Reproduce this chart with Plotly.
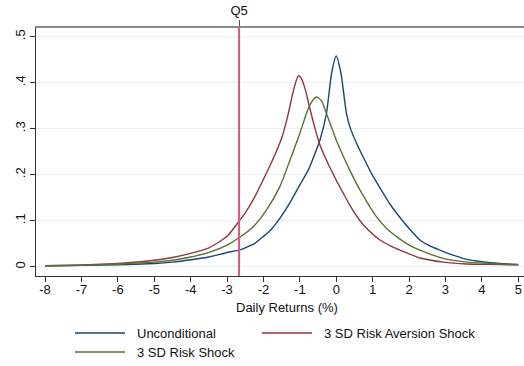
import plotly.graph_objects as go

# ---- data ----
x_uncond = [-8, -7, -6, -5, -4.5, -4, -3.5, -3, -2.67, -2.5, -2.25, -2, -1.8, -1.55, -1.28, -1.0,
            -0.77, -0.45, -0.27, -0.13, 0.0, 0.13, 0.28, 0.4, 0.56, 0.78, 1.0, 1.29, 1.5, 1.75,
            2.0, 2.3, 2.6, 2.94, 3.25, 3.58, 4.0, 4.5, 5.0]
y_uncond = [0.002, 0.003, 0.004, 0.007, 0.010, 0.015, 0.021, 0.031, 0.036, 0.041, 0.050, 0.066, 0.080, 0.105, 0.138, 0.178,
            0.21, 0.275, 0.333, 0.42, 0.458, 0.42, 0.333, 0.298, 0.268, 0.232, 0.198, 0.16, 0.133, 0.107,
            0.083, 0.058, 0.044, 0.033, 0.024, 0.016, 0.011, 0.007, 0.005]

x_aversion = [-8, -7, -6, -5, -4.5, -4, -3.5, -3, -2.67, -2.5, -2.25, -2.0, -1.75, -1.5, -1.35, -1.2,
              -1.1, -1.03, -0.95, -0.85, -0.75, -0.6, -0.45, -0.25, 0.0, 0.19, 0.4, 0.65, 0.9, 1.2,
              1.5, 1.75, 2.0, 2.3, 2.94, 3.58, 4.22, 5.0]
y_aversion = [0.002, 0.004, 0.007, 0.014, 0.020, 0.029, 0.041, 0.066, 0.099, 0.117, 0.150, 0.19, 0.232, 0.280, 0.322, 0.375,
              0.405, 0.415, 0.408, 0.385, 0.352, 0.305, 0.265, 0.228, 0.188, 0.16, 0.13, 0.10, 0.078, 0.058,
              0.045, 0.036, 0.028, 0.019, 0.010, 0.006, 0.005, 0.004]

x_risk = [-8, -7, -6, -5, -4.5, -4, -3.5, -3, -2.67, -2.28, -1.92, -1.55, -1.28, -1.0, -0.82, -0.7,
          -0.55, -0.4, -0.27, 0.0, 0.24, 0.37, 0.65, 1.1, 1.4, 1.75, 2.0, 2.3, 2.94, 3.58, 4.22, 5.0]
y_risk = [0.002, 0.003, 0.006, 0.010, 0.014, 0.021, 0.031, 0.047, 0.063, 0.087, 0.123, 0.174, 0.230, 0.290, 0.333, 0.355,
          0.369, 0.360, 0.333, 0.275, 0.232, 0.21, 0.167, 0.109, 0.082, 0.060, 0.047, 0.036, 0.018, 0.010, 0.007, 0.004]

q5_value = -2.67
series_names = ["Unconditional", "3 SD Risk Aversion Shock", "3 SD Risk Shock"]
x_ticks = list(range(-8, 6))
x_tick_labels = [str(v) for v in x_ticks]
y_ticks = [0, 0.1, 0.2, 0.3, 0.4, 0.5]
y_tick_labels = ["0", ".1", ".2", ".3", ".4", ".5"]
x_title = "Daily Returns (%)"

colors = ["#1a476f", "#90353b", "#55752f"]
FONT = "Liberation Sans, Arial, sans-serif"
FS = 13

fig = go.Figure()
for xs, ys, name, c in zip([x_uncond, x_aversion, x_risk], [y_uncond, y_aversion, y_risk],
                           series_names, colors):
    fig.add_trace(go.Scatter(x=xs, y=ys, mode="lines", name=name,
                             line=dict(color=c, width=1.4, shape="spline", smoothing=0.6),
                             showlegend=False))

Y0, Y1 = -0.0202, 0.5189
X0, X1 = -8.249, 5.157

# Q5 vertical line
fig.add_trace(go.Scatter(x=[q5_value, q5_value], y=[Y0, Y1], mode="lines",
                         line=dict(color="#d9577a", width=2), showlegend=False, hoverinfo="skip"))

# dummy trace to activate top axis
fig.add_trace(go.Scatter(x=[q5_value], y=[None], xaxis="x2", showlegend=False, hoverinfo="skip"))

fig.update_layout(
    width=524, height=366,
    margin=dict(l=36, r=0, t=28, b=90),
    paper_bgcolor="white", plot_bgcolor="white",
    font=dict(family=FONT, size=FS, color="#111111"),
    xaxis=dict(range=[X0, X1], tickvals=x_ticks, ticktext=x_tick_labels, ticks="outside", ticklen=5,
               tickcolor="#333333", showline=True, linecolor="#333333", linewidth=1.3,
               showgrid=False, zeroline=False, automargin=False, ticklabelstandoff=-4,
               tickfont=dict(size=FS)),
    xaxis2=dict(range=[X0, X1], overlaying="x", side="top", tickvals=[q5_value],
                ticktext=["Q5"], ticks="outside", ticklen=6, tickcolor="#555555",
                showline=True, linecolor="#8a8a8a", linewidth=1.5, showgrid=False,
                zeroline=False, automargin=False, tickfont=dict(size=FS)),
    yaxis=dict(range=[Y0, Y1], tickvals=y_ticks, ticktext=y_tick_labels,
               tickangle=-90, ticks="outside", ticklen=5, tickcolor="#333333",
               showline=True, linecolor="#333333", linewidth=1.3,
               showgrid=True, gridcolor="#e8f0f2", gridwidth=1, zeroline=False,
               automargin=False, tickfont=dict(size=FS)),
)

PL, PW, PB, PH = 36, 488, 90, 248

# x-axis title
fig.add_annotation(xref="paper", yref="paper", x=(287 - PL) / PW, y=((366 - 307) - PB) / PH,
                   text=x_title, showarrow=False, xanchor="center", yanchor="middle",
                   font=dict(size=FS, family=FONT))

# manual legend (styling only)
entries = [(0, 75, 333), (1, 262, 333), (2, 75, 352)]
for idx, x0, ypx in entries:
    yp = ((366 - ypx) - PB) / PH
    fig.add_shape(type="line", xref="paper", yref="paper",
                  x0=(x0 - PL) / PW, x1=(x0 + 50 - PL) / PW, y0=yp, y1=yp,
                  line=dict(color=colors[idx], width=1.4))
    fig.add_annotation(xref="paper", yref="paper", x=(x0 + 60 - PL) / PW, y=yp,
                       text=series_names[idx], showarrow=False,
                       xanchor="left", yanchor="middle", font=dict(size=FS, family=FONT))

fig.write_html("out.html", config={"displayModeBar": False},
               post_script="document.body.style.margin='0';document.body.style.overflow='hidden';")
